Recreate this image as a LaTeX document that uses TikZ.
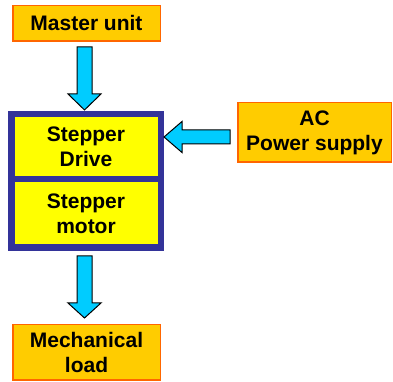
\documentclass[tikz,border=0pt]{standalone}
\usepackage{fontspec}
\setmainfont{Liberation Sans}
\usetikzlibrary{positioning,calc}

\begin{document}
\begin{tikzpicture}[x=1pt, y=1pt,
  % ---- colours ---------------------------------------------------------
  /utils/exec={%
    \definecolor{unitfill}  {RGB}{255,204,  0}%
    \definecolor{unitedge}  {RGB}{255,102,  0}%
    \definecolor{stagefill} {RGB}{255,255,  0}%
    \definecolor{stageedge} {RGB}{ 51, 51,153}%
    \definecolor{arrowfill} {RGB}{  0,204,255}%
  },
  % ---- box styles ------------------------------------------------------
  unit/.style={
    draw=unitedge, line width=1.5pt, fill=unitfill, outer sep=0pt,
    align=center, inner sep=2pt, font=\fontsize{21}{25}\selectfont\bfseries
  },
  stage/.style={
    draw=stageedge, line width=6.5pt, fill=stagefill, outer sep=0pt,
    minimum width=149.5pt, align=center, inner sep=2pt,
    font=\fontsize{21}{25}\selectfont\bfseries
  },
  fatarrow/.style={draw=black, line width=1pt, fill=arrowfill, line join=miter},
]
\useasboundingbox (0,0) rectangle (393,382);

% =====================================================================
%  BOXES
% =====================================================================
\node[unit, minimum width=147.5pt, minimum height=35.5pt] (master) at (86.5,358.5) {Master unit};

\node[stage, minimum height=64.75pt] (drive) at (86,235.4) {Stepper\\Drive};
\node[stage, minimum height=68.75pt, below=0pt of drive] (motor) {Stepper\\motor};

\node[unit, minimum width=153.5pt, minimum height=59.5pt] (ac) at (314.5,249.5) {AC\\Power supply};

\node[unit, minimum width=147.5pt, minimum height=55.5pt] (load) at (86.5,29.5) {Mechanical\\load};

% =====================================================================
%  BLOCK ARROWS
% =====================================================================
% master unit -> drive
\draw[fatarrow] let \p1=($(master.south)+(-2,-5.75)$), \p2=($(drive.north)+(-1.5,4.25)$) in
  (\x1-7.5,\y1) -- (\x1+7.5,\y1) -- (\x1+7.5,\y2+16) -- (\x1+16.5,\y2+16)
  -- (\x1,\y2) -- (\x1-16.5,\y2+16) -- (\x1-7.5,\y2+16) -- cycle;

% motor -> load
\draw[fatarrow] let \p1=($(motor.south)+(-1.5,-8.25)$), \p2=($(load.north)+(-2,6.75)$) in
  (\x1-7.5,\y1) -- (\x1+7.5,\y1) -- (\x1+7.5,\y2+15) -- (\x1+16.5,\y2+15)
  -- (\x1,\y2) -- (\x1-16.5,\y2+15) -- (\x1-7.5,\y2+15) -- cycle;

% power supply -> drive
\draw[fatarrow] let \p1=($(ac.west)+(-7.75,-4.5)$), \p2=($(drive.east)+(3.25,0)$) in
  (\x1,\y1+7) -- (\x2+18,\y1+7) -- (\x2+18,\y1+15.5) -- (\x2,\y1)
  -- (\x2+18,\y1-15.5) -- (\x2+18,\y1-7) -- (\x1,\y1-7) -- cycle;

\end{tikzpicture}
\end{document}
